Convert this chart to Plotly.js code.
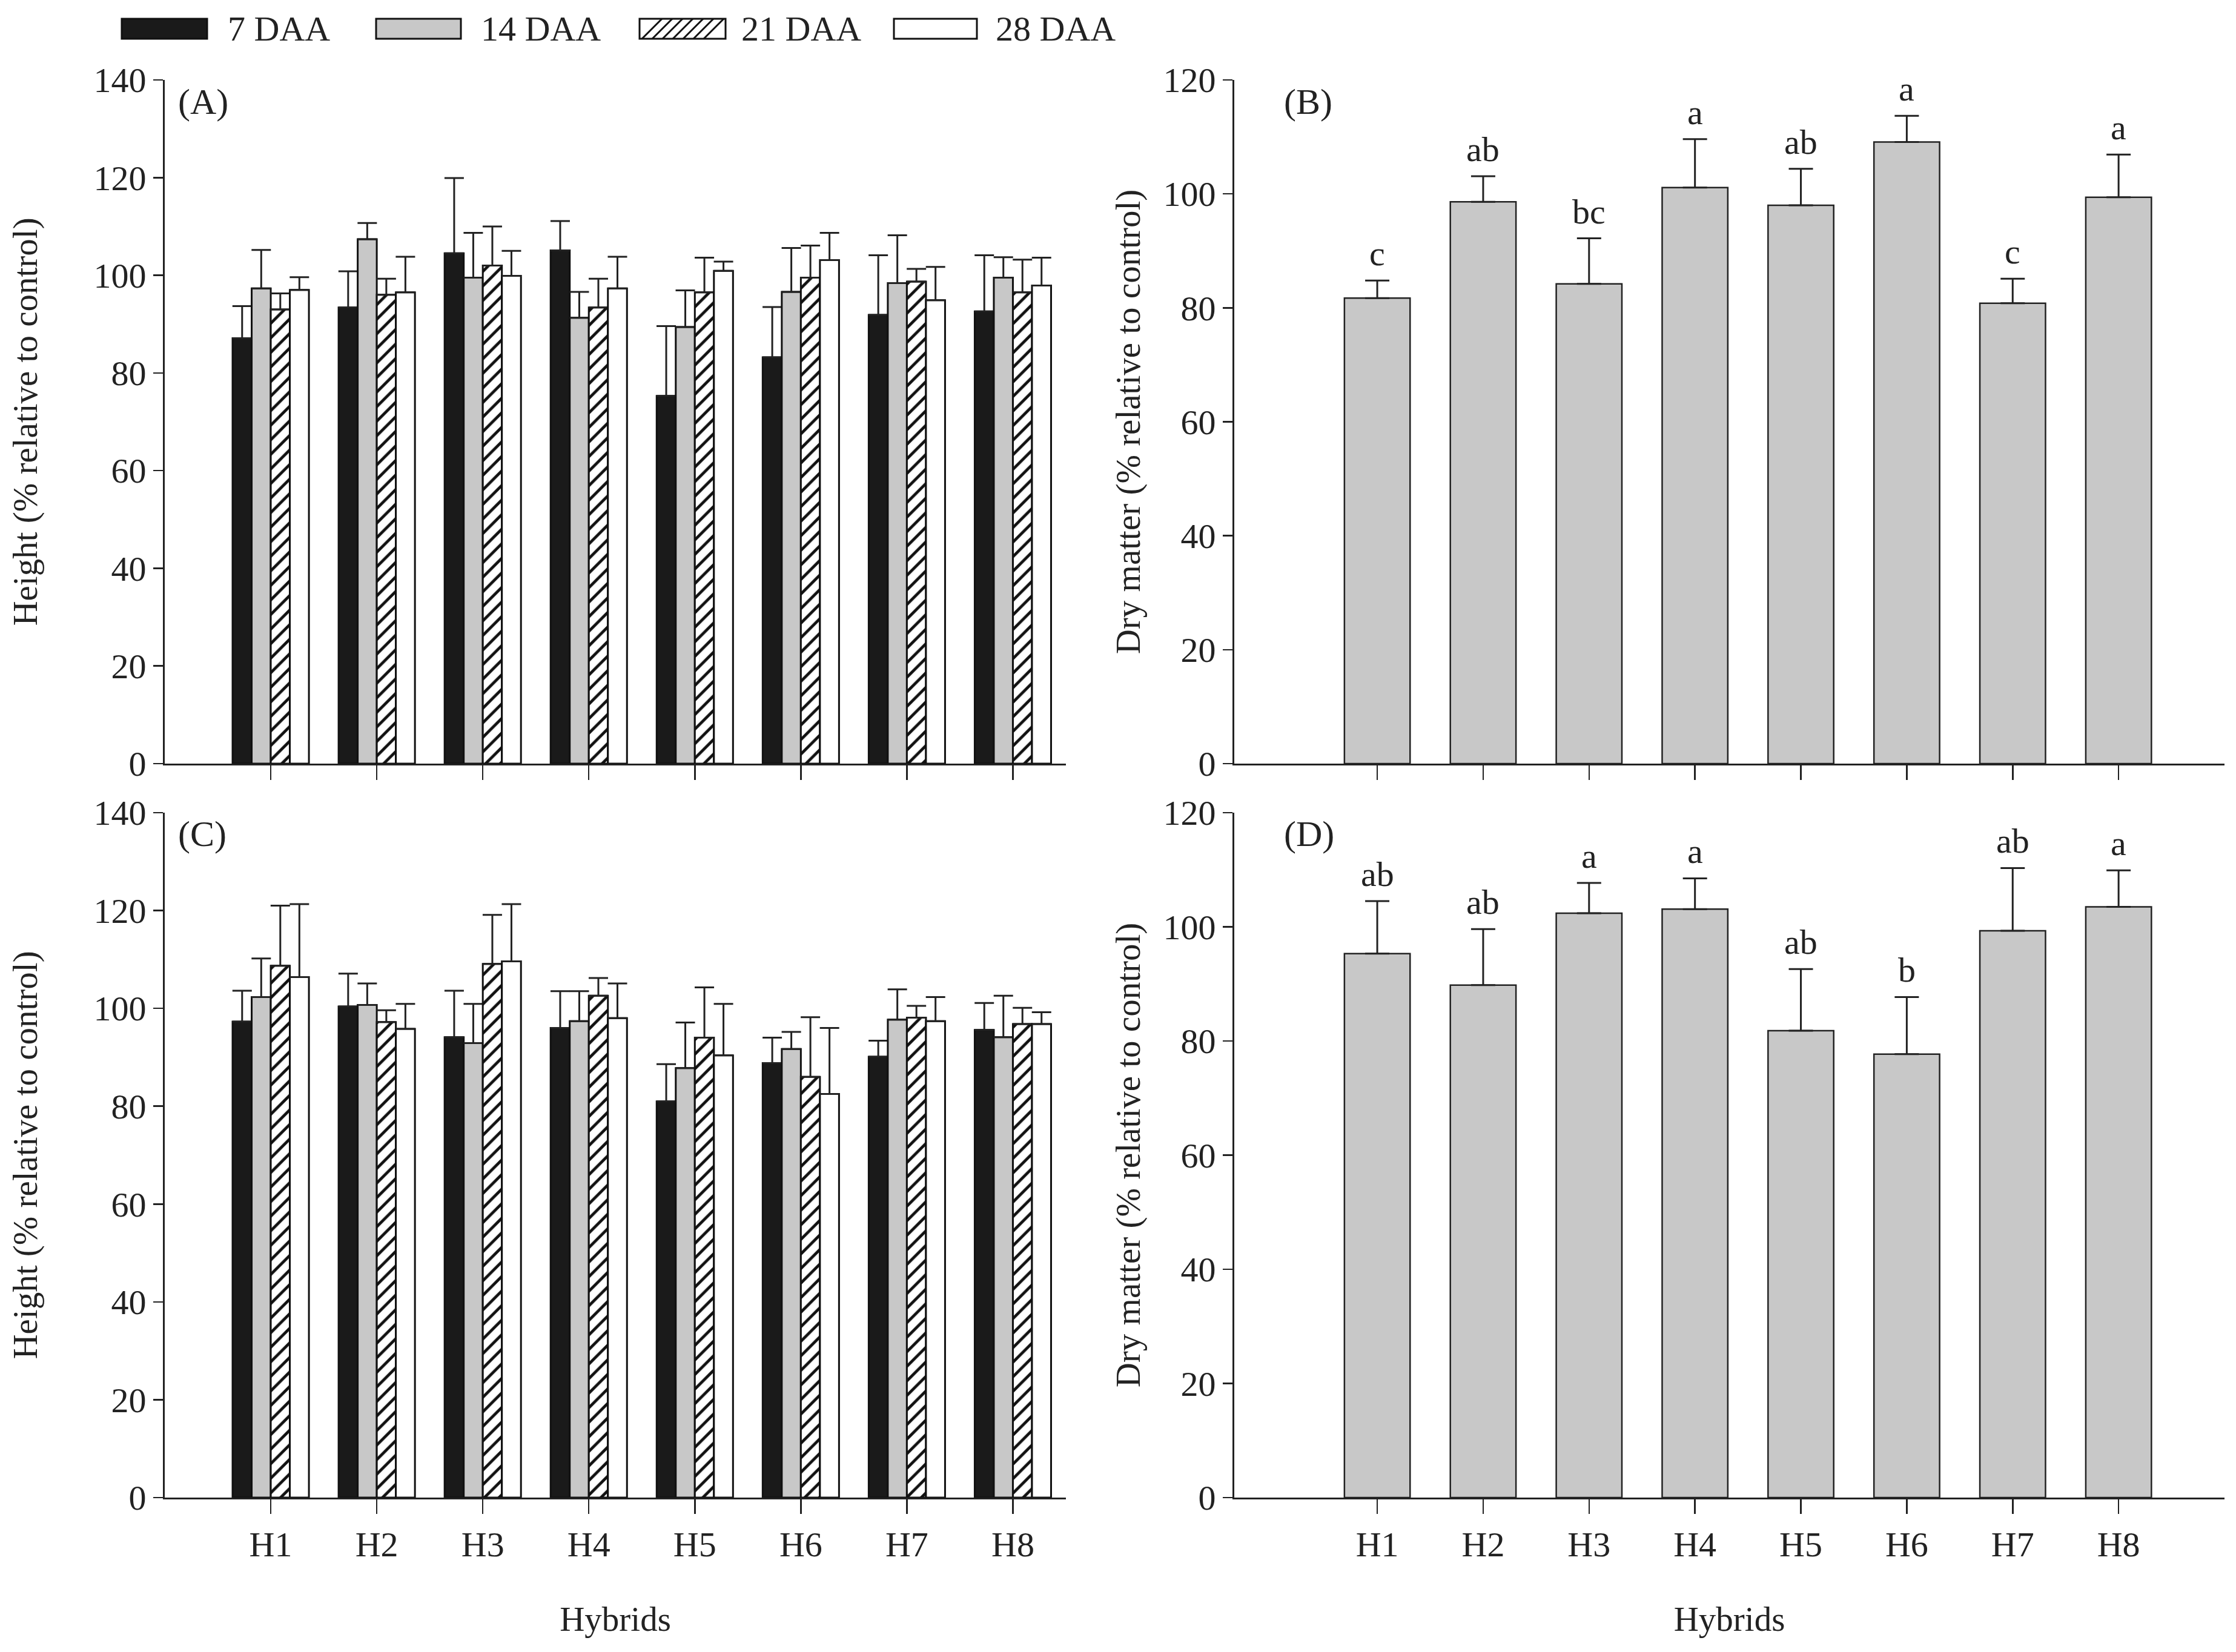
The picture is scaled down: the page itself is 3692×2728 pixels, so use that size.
<!DOCTYPE html>
<html>
<head>
<meta charset="utf-8">
<script src="https://cdn.plot.ly/plotly-3.0.1.min.js"></script>
<style>html,body{margin:0;padding:0;background:#fff}#chart{width:3692px;height:2728px}</style>
</head>
<body>
<div id="chart"></div>
<script>
// ---------- data ----------
const hybrids = ["H1","H2","H3","H4","H5","H6","H7","H8"];
const seriesNames = ["7 DAA","14 DAA","21 DAA","28 DAA"];

// Panel A: height (% relative to control)
const heightA_7  = [87.1, 93.4, 104.5, 105.1, 75.3, 83.2, 91.9, 92.6];
const heightA_14 = [97.3, 107.4, 99.5, 91.3, 89.4, 96.6, 98.4, 99.5];
const heightA_21 = [93.0, 96.0, 102.0, 93.4, 96.5, 99.5, 98.7, 96.5];
const heightA_28 = [97.0, 96.5, 99.9, 97.3, 100.9, 103.1, 94.9, 97.9];
const errA_7  = [6.6, 7.4, 15.4, 6.0, 14.3, 10.3, 12.2, 11.5];
const errA_14 = [7.9, 3.3, 9.2, 5.3, 7.5, 9.0, 9.8, 4.2];
const errA_21 = [3.3, 3.3, 8.0, 5.9, 7.1, 6.6, 2.6, 6.7];
const errA_28 = [2.6, 7.3, 5.1, 6.5, 1.9, 5.6, 6.8, 5.7];

// Panel C: height (% relative to control)
const heightC_7  = [97.3, 100.4, 94.1, 96.0, 81.0, 88.8, 90.1, 95.6];
const heightC_14 = [102.3, 100.7, 92.9, 97.4, 87.8, 91.7, 97.7, 94.1];
const heightC_21 = [108.7, 97.2, 109.1, 102.6, 94.0, 86.0, 98.1, 96.8];
const heightC_28 = [106.4, 95.8, 109.6, 98.0, 90.4, 82.5, 97.4, 96.8];
const errC_7  = [6.3, 6.7, 9.5, 7.5, 7.6, 5.2, 3.3, 5.5];
const errC_14 = [7.9, 4.4, 8.0, 6.1, 9.3, 3.5, 6.2, 8.5];
const errC_21 = [12.3, 2.4, 10.0, 3.6, 10.3, 12.2, 2.4, 3.3];
const errC_28 = [14.9, 5.1, 11.7, 7.1, 10.5, 13.5, 4.9, 2.4];

// Panel B: dry matter (% relative to control)
const dryB = [81.7, 98.6, 84.2, 101.1, 98.0, 109.1, 80.8, 99.4];
const errB = [3.1, 4.5, 8.0, 8.5, 6.4, 4.6, 4.3, 7.5];
const lettersB = ["c","ab","bc","a","ab","a","c","a"];

// Panel D: dry matter (% relative to control)
const dryD = [95.3, 89.8, 102.4, 103.1, 81.8, 77.7, 99.3, 103.5];
const errD = [9.2, 9.8, 5.3, 5.4, 10.8, 10.0, 11.0, 6.4];
const lettersD = ["ab","ab","a","a","ab","b","ab","a"];

const yTicksHeight = [0,20,40,60,80,100,120,140];
const yTicksDry = [0,20,40,60,80,100,120];

// ---------- styling ----------
const W = 3692, H = 2728;
const FONT = "Liberation Serif, Times New Roman, serif";
const TXT = "#222";
const TICK = 58, TITLE = 57;
const styles = [
  {color:"#1a1a1a", pattern:null},
  {color:"#c8c8c8", pattern:null},
  {color:"#ffffff", pattern:{shape:"/", fgcolor:"#111", bgcolor:"#ffffff", size:17, solidity:0.28}},
  {color:"#ffffff", pattern:null}
];

function groupTraces(vals, errs, xa, ya) {
  return vals.map((v, i) => {
    const m = {color: styles[i].color, line:{color:"#111", width:3}};
    if (styles[i].pattern) m.pattern = styles[i].pattern;
    return {
      type:"bar", name: seriesNames[i], x: hybrids, y: v, xaxis: xa, yaxis: ya,
      marker: m, showlegend:false,
      error_y:{type:"data", symmetric:false, array: errs[i], arrayminus: v.map(()=>0),
               color:"#222", thickness:3, width:16}
    };
  });
}
function singleTrace(v, e, xa, ya) {
  return {
    type:"bar", x: hybrids, y: v, xaxis: xa, yaxis: ya, width:0.62, showlegend:false,
    marker:{color:"#c8c8c8", line:{color:"#222", width:2.5}},
    error_y:{type:"data", symmetric:false, array:e, arrayminus:v.map(()=>0),
             color:"#222", thickness:3, width:20}
  };
}

const data = [
  ...groupTraces([heightA_7,heightA_14,heightA_21,heightA_28],[errA_7,errA_14,errA_21,errA_28],"x","y"),
  singleTrace(dryB, errB, "x2", "y2"),
  ...groupTraces([heightC_7,heightC_14,heightC_21,heightC_28],[errC_7,errC_14,errC_21,errC_28],"x3","y3"),
  singleTrace(dryD, errD, "x4", "y4")
];

// domains (px -> paper)
const px = v => v / W, py = v => 1 - v / H;
const colL = [px(272), px(1760)], colR = [px(2038), px(3673)];
const rowT = [py(1261), py(132)], rowB = [py(2473), py(1342)];

function xax(domain, anchor, range, labels) {
  return {
    domain, anchor, type:"category", categoryarray: hybrids, range,
    showline:true, linecolor:"#222", linewidth:3, ticks:"outside", ticklen:24, tickwidth:2.5, tickcolor:"#222",
    showgrid:false, zeroline:false, showticklabels: labels,
    tickfont:{family:FONT, size:TICK, color:TXT},
    title: labels ? {text:"Hybrids", font:{family:FONT, size:TITLE, color:TXT}, standoff:72} : {text:""}
  };
}
function yax(domain, anchor, range, tickvals, title, standoff) {
  return {
    domain, anchor, range, tickvals, showline:true, linecolor:"#222", linewidth:3,
    ticks:"outside", ticklen:16, tickwidth:2.5, tickcolor:"#222", showgrid:false, zeroline:false,
    tickfont:{family:FONT, size:TICK, color:TXT},
    title:{text:title, font:{family:FONT, size:TITLE, color:TXT}, standoff}
  };
}

const annotations = [];
function letters(vals, errs, labs, xa, ya) {
  labs.forEach((t, i) => annotations.push({
    text:t, x:hybrids[i], y:vals[i]+errs[i], xref:xa, yref:ya, yanchor:"bottom", yshift:10,
    showarrow:false, font:{family:FONT, size:58, color:TXT}
  }));
}
letters(dryB, errB, lettersB, "x2", "y2");
letters(dryD, errD, lettersD, "x4", "y4");

const panelLabels = [["(A)",292,168],["(B)",2118,168],["(C)",292,1377],["(D)",2118,1377]];
panelLabels.forEach(([t,x,y]) => annotations.push({
  text:t, xref:"paper", yref:"paper", x:px(x), y:py(y), xanchor:"left", yanchor:"middle",
  showarrow:false, font:{family:FONT, size:60, color:TXT}
}));

// custom legend (wide rectangular swatches)
const shapes = [];
const legBoxes = [[201,342],[621,761],[1056,1198],[1476,1613]];
const legText = [374, 792, 1222, 1642];
const ly0 = 31, ly1 = 64;
legBoxes.forEach(([x0,x1], i) => {
  shapes.push({type:"rect", xref:"paper", yref:"paper", x0:px(x0), x1:px(x1), y0:py(ly1), y1:py(ly0),
    fillcolor: styles[i].color, line:{color:"#111", width:3}});
  if (styles[i].pattern) {
    const h = ly1 - ly0, s = 17;
    for (let xs = x0 + 4; xs + h <= x1 - 2; xs += s) {
      shapes.push({type:"line", xref:"paper", yref:"paper", x0:px(xs), y0:py(ly1), x1:px(xs+h), y1:py(ly0),
        line:{color:"#111", width:3}});
    }
  }
  annotations.push({text:seriesNames[i], xref:"paper", yref:"paper", x:px(legText[i]), y:py((ly0+ly1)/2),
    xanchor:"left", yanchor:"middle", showarrow:false, font:{family:FONT, size:58, color:TXT}});
});

const layout = {
  width:W, height:H, margin:{l:0, r:0, t:0, b:0}, paper_bgcolor:"#fff", plot_bgcolor:"#fff",
  barmode:"group", bargap:0.28, bargroupgap:0, showlegend:false,
  font:{family:FONT, color:TXT},
  xaxis: xax(colL, "y", [-1.0, 7.5], false),
  yaxis: yax(rowT, "x", [0,140], yTicksHeight, "Height (% relative to control)", 75),
  xaxis2: xax(colR, "y2", [-1.35, 8.0], false),
  yaxis2: yax(rowT, "x2", [0,120], yTicksDry, "Dry matter (% relative to control)", 20),
  xaxis3: xax(colL, "y3", [-1.0, 7.5], true),
  yaxis3: yax(rowB, "x3", [0,140], yTicksHeight, "Height (% relative to control)", 75),
  xaxis4: xax(colR, "y4", [-1.35, 8.0], true),
  yaxis4: yax(rowB, "x4", [0,120], yTicksDry, "Dry matter (% relative to control)", 20),
  annotations, shapes
};

Plotly.newPlot("chart", data, layout, {staticPlot:true, displayModeBar:false});
</script>
</body>
</html>
